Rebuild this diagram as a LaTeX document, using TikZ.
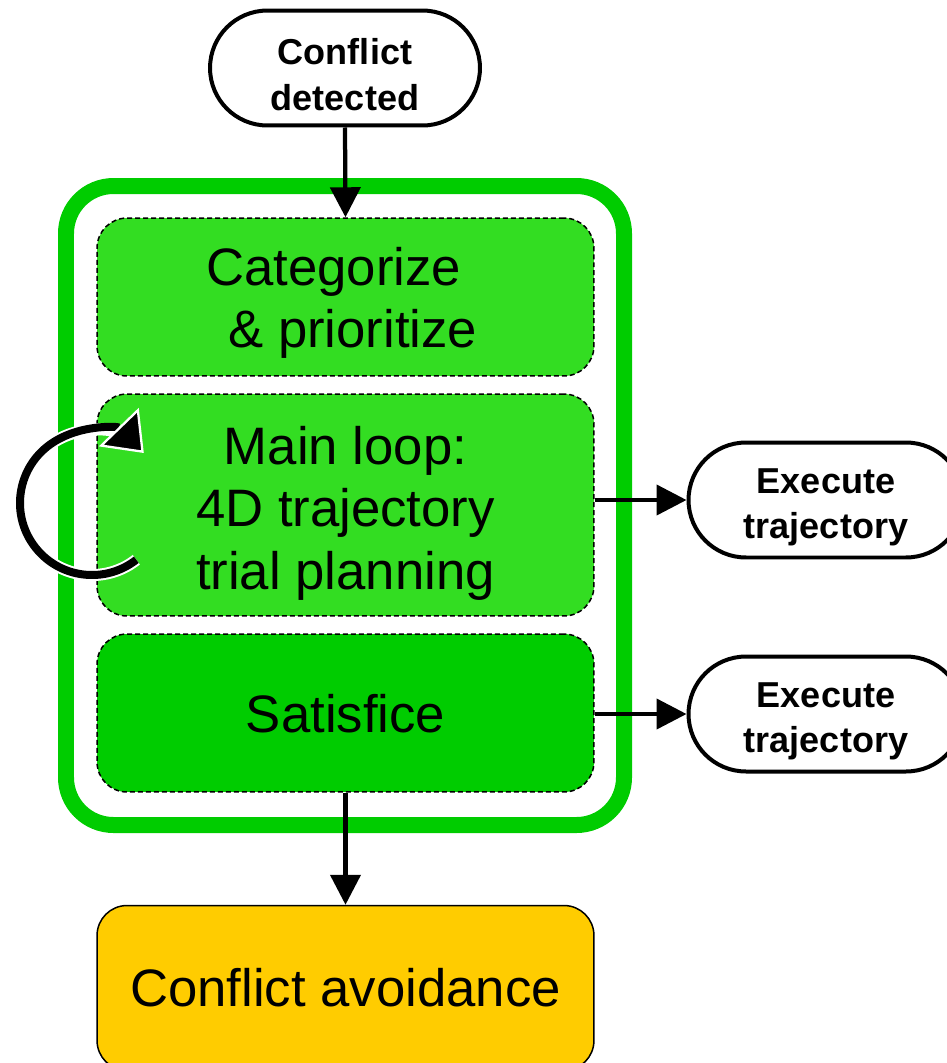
\documentclass[tikz,border=0pt]{standalone}
\usepackage{fontspec}
\setmainfont{Liberation Sans}
\usetikzlibrary{arrows.meta}
\definecolor{frameg}{RGB}{0,204,0}
\definecolor{lightg}{RGB}{51,221,34}
\definecolor{gold}{RGB}{255,204,0}
\begin{document}
\begin{tikzpicture}[x=0.02cm,y=-0.02cm,
  inner/.style={draw=black, line width=0.03cm, dash pattern=on 0.1cm off 0.06cm,
    rounded corners=0.6cm, minimum width=9.94cm},
  bigtext/.style={align=center, font=\fontsize{30}{35.5}\selectfont, inner sep=0pt},
  term/.style={draw=black, line width=0.08cm, rounded corners=1.15cm, fill=white,
    minimum height=2.3cm, minimum width=5.5cm},
  termtext/.style={align=center, font=\fontsize{20.5}{25.8}\selectfont\bfseries, inner sep=0pt},
  conn/.style={line width=0.085cm, -{Triangle[length=0.6cm,width=0.6cm]}}]
\useasboundingbox (0,0) rectangle (947,1063);
\draw[frameg, line width=0.32cm, rounded corners=0.95cm] (66,186) rectangle (624,825);
% boxes
\node[term, minimum width=5.4cm] (cd) at (345,68) {};
\node[termtext] (cdt) at ([yshift=-0.13cm]cd.center) {Conflict\\detected};
\node[inner, fill=lightg, minimum height=3.16cm] (cat) at (345.5,297) {};
\node[bigtext] (catt) at ([yshift=-0.12cm]cat.center) {Categorize\hspace*{0.45em}\\\ \& prioritize};
\node[inner, fill=lightg, minimum height=4.44cm] (main) at (345.5,505) {};
\node[bigtext] (maint) at ([yshift=-0.16cm]main.center) {Main loop:\\4D trajectory\\trial planning};
\node[inner, fill=frameg, minimum height=3.16cm] (sat) at (345.5,713) {};
\node[bigtext] (satt) at ([yshift=-0.02cm]sat.center) {Satisfice};
\node[draw=black, line width=0.03cm, fill=gold, rounded corners=0.6cm, minimum width=9.94cm,
  minimum height=3.3cm, font=\fontsize{30}{35}\selectfont] (ca) at (345.5,988) {Conflict avoidance};
\node[term] (ex1) at (826,500) {};
\node[termtext] (ex1t) at ([yshift=-0.15cm]ex1.center) {Execute\\trajectory};
\node[term] (ex2) at (826,714) {};
\node[termtext] (ex2t) at ([yshift=-0.15cm]ex2.center) {Execute\\trajectory};
% connectors
\draw[conn] (cd.south) -- (cat.north);
\draw[conn] (main.east |- ex1.west) -- (ex1.west);
\draw[conn] (sat.east |- ex2.west) -- (ex2.west);
\draw[conn] (sat.south) -- (ca.north);
% loop arrow
\coordinate (lc) at (92,503);
\draw[white, line width=0.24cm, shorten >=0.4cm] (lc) ++(52:72) arc[start angle=52, end angle=316, radius=72];
\draw[black, line width=0.16cm, -{Triangle[length=0.72cm,width=1.1cm,color=white,fill=black,line width=1.3pt]}]
  (lc) ++(52:72) arc[start angle=52, end angle=316, radius=72];
\end{tikzpicture}
\end{document}
